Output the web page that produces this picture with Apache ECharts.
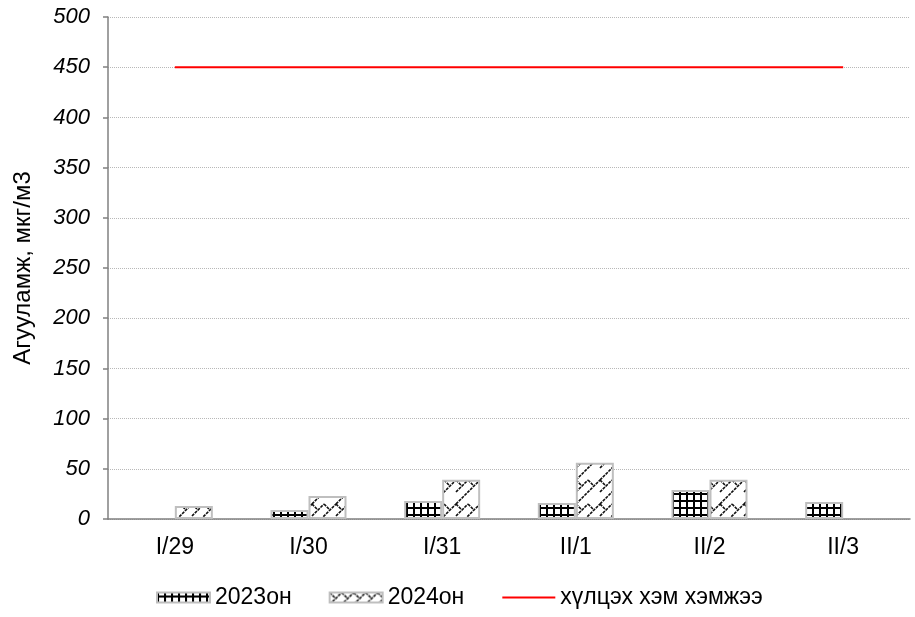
<!DOCTYPE html>
<html>
<head>
<meta charset="utf-8">
<script src="https://cdn.jsdelivr.net/npm/echarts@6/dist/echarts.min.js"></script>
<style>html,body{margin:0;padding:0;background:#fff;}#c{width:915px;height:617px;}</style>
</head>
<body>
<div id="c"></div>
<script>
var categories = ['I/29', 'I/30', 'I/31', 'II/1', 'II/2', 'II/3'];
var values2023 = [null, 9, 18, 16, 29, 17];
var values2024 = [13, 23, 39, 56, 39, null];
var limitValues = [450, 450, 450, 450, 450, 450];
var yTicks = { min: 0, max: 500, interval: 50 };

function gridPattern() {
  var c = document.createElement('canvas');
  c.width = 7; c.height = 7;
  var g = c.getContext('2d');
  g.fillStyle = '#fff'; g.fillRect(0, 0, 7, 7);
  g.fillStyle = '#000';
  g.fillRect(0, 0, 2, 7);
  g.fillRect(0, 3, 7, 2);
  return c;
}
function brickPattern() {
  var s = 24, h = s / 2, q = s / 4;
  var c = document.createElement('canvas');
  c.width = s; c.height = s;
  var g = c.getContext('2d');
  g.fillStyle = '#fff'; g.fillRect(0, 0, s, s);
  g.strokeStyle = '#111'; g.lineWidth = 1.6;
  g.setLineDash([3, 1]);
  g.beginPath();
  for (var ox = -s; ox <= s; ox += s) {
    for (var oy = -s; oy <= s; oy += s) {
      g.moveTo(ox + 0, oy + h); g.lineTo(ox + h, oy + 0);
      g.moveTo(ox + 0, oy + s); g.lineTo(ox + s, oy + 0);
      g.moveTo(ox + 0, oy + 0); g.lineTo(ox + q, oy + q);
      g.moveTo(ox + h, oy + 0); g.lineTo(ox + h + q, oy + q);
    }
  }
  g.stroke();
  return c;
}
var p2023 = { image: gridPattern(), repeat: 'repeat' };
var p2024 = { image: brickPattern(), repeat: 'repeat' };

var font = 'Liberation Sans, Arial, sans-serif';
var chart = echarts.init(document.getElementById('c'));
chart.setOption({
  animation: false,
  textStyle: { fontFamily: font },
  grid: { left: 108, right: 5, top: 17, bottom: 98, containLabel: false },
  legend: {
    bottom: 3, left: 151, itemWidth: 53, itemHeight: 10, itemGap: 37,
    textStyle: { fontSize: 23, color: '#000', fontFamily: font },
    data: [
      { name: '2023он', icon: 'rect' },
      { name: '2024он', icon: 'rect' },
      { name: 'хүлцэх хэм хэмжээ', itemStyle: { color: 'rgba(0,0,0,0)', borderWidth: 0 } }
    ]
  },
  xAxis: {
    type: 'category', data: categories, boundaryGap: true,
    axisLine: { lineStyle: { color: '#808080', width: 1.5 } },
    axisTick: { show: false },
    axisLabel: { fontSize: 23, color: '#000', margin: 17, fontFamily: font }
  },
  yAxis: {
    type: 'value', min: yTicks.min, max: yTicks.max, interval: yTicks.interval,
    name: 'Агууламж, мкг/м3', nameLocation: 'middle', nameGap: 73,
    nameTextStyle: { fontSize: 24, color: '#000', fontFamily: font },
    axisLine: { show: true, lineStyle: { color: '#808080', width: 1.5 } },
    axisTick: { show: true, length: 5, lineStyle: { color: '#808080', width: 1.5 } },
    axisLabel: { fontSize: 22, color: '#000', fontStyle: 'italic', margin: 18, fontFamily: font },
    splitLine: { show: true, lineStyle: { color: '#b8b8b8', type: 'dotted', width: 1 } }
  },
  series: [
    {
      name: '2023он', type: 'bar', data: values2023, barWidth: 38, barGap: '0%',
      itemStyle: { color: p2023, borderColor: '#bfbfbf', borderWidth: 2 }
    },
    {
      name: '2024он', type: 'bar', data: values2024, barWidth: 38, barGap: '0%',
      itemStyle: { color: p2024, borderColor: '#bfbfbf', borderWidth: 2 }
    },
    {
      name: 'хүлцэх хэм хэмжээ', type: 'line', data: limitValues,
      symbol: 'none', showSymbol: false,
      lineStyle: { color: '#ff0000', width: 2 },
      itemStyle: { color: '#ff0000' }
    }
  ]
});
</script>
</body>
</html>
